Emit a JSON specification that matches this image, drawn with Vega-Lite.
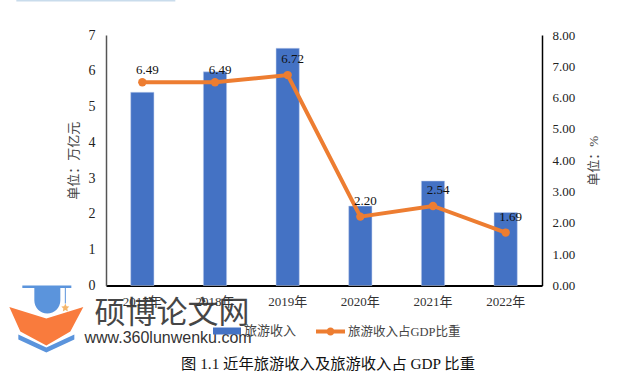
{"$schema":"https://vega.github.io/schema/vega-lite/v6.json","width":436,"height":250.5,"autosize":{"type":"none"},"padding":{"left":106,"top":35,"right":81,"bottom":89.5},"background":"white","title":{"text":"图 1.1  近年旅游收入及旅游收入占 GDP 比重","orient":"bottom","anchor":"middle","offset":4,"dx":4,"font":"Liberation Serif, Noto Sans CJK SC","fontSize":15.3,"fontWeight":"normal","color":"#111"},"config":{"view":{"stroke":null},"font":"Liberation Serif, Noto Sans CJK SC"},"data":{"values":[{"year":"2017年","revenue":5.4,"share":6.49},{"year":"2018年","revenue":5.97,"share":6.49},{"year":"2019年","revenue":6.63,"share":6.72},{"year":"2020年","revenue":2.22,"share":2.2},{"year":"2021年","revenue":2.92,"share":2.54},{"year":"2022年","revenue":2.04,"share":1.69}]},"encoding":{"x":{"field":"year","type":"nominal","sort":null,"scale":{"paddingInner":0.68,"paddingOuter":0.34},"axis":{"title":null,"labelAngle":0,"labelFontSize":13,"labelColor":"#333","labelPadding":10,"ticks":false,"domainColor":"#000","domainWidth":2}}},"layer":[{"mark":{"type":"bar","color":"#4472C4","stroke":"#C5D3EE","strokeWidth":0.5},"encoding":{"y":{"field":"revenue","type":"quantitative","scale":{"domain":[0,7]},"axis":{"title":"单位：万亿元","titleFontSize":13,"titleFontWeight":"normal","titleColor":"#444","titlePadding":8,"labelFontSize":14,"labelColor":"#222","labelPadding":11,"ticks":false,"grid":false,"domainColor":"#555","domainWidth":1.5,"tickCount":8}},"fill":{"datum":"旅游收入","type":"nominal","scale":{"range":["#4472C4"]},"legend":{"title":null,"orient":"none","legendX":107,"legendY":282,"symbolType":"M-1,-0.25H1V0.25H-1Z","symbolSize":784,"symbolStrokeWidth":0,"labelFontSize":13,"labelColor":"#444","labelOffset":3}}}},{"mark":{"type":"line","color":"#ED7D31","strokeWidth":4},"encoding":{"y":{"field":"share","type":"quantitative","scale":{"domain":[0,8]},"axis":{"orient":"right","title":"单位：%","titleAngle":-90,"titleFontSize":13,"titleFontWeight":"normal","titleColor":"#444","titlePadding":26,"labelFontSize":13,"labelColor":"#222","labelPadding":10,"ticks":false,"grid":false,"domainColor":"#000","domainWidth":1.5,"tickCount":9,"format":".2f"}},"stroke":{"datum":"旅游收入占GDP比重","type":"nominal","scale":{"range":["#ED7D31"]},"legend":{"title":null,"orient":"none","legendX":210,"legendY":282,"symbolType":"M-1,-0.14H1V0.14H-1ZM0.28,0A0.28,0.28 0 1 1 -0.28,0A0.28,0.28 0 1 1 0.28,0Z","symbolSize":841,"symbolStrokeWidth":0,"symbolFillColor":"#ED7D31","labelFontSize":12.5,"labelColor":"#444","labelOffset":3}}}},{"mark":{"type":"circle","color":"#ED7D31","size":70,"opacity":1},"encoding":{"y":{"field":"share","type":"quantitative","scale":{"domain":[0,8]},"axis":null}}},{"transform":[{"filter":"datum.share==6.49"}],"mark":{"type":"text","fontSize":13,"color":"#111","dx":5,"dy":-12},"encoding":{"y":{"field":"share","type":"quantitative","scale":{"domain":[0,8]},"axis":null},"text":{"field":"share","type":"quantitative","format":".2f"}}},{"transform":[{"filter":"datum.share!=6.49"}],"mark":{"type":"text","fontSize":13,"color":"#111","dx":5,"dy":-16},"encoding":{"y":{"field":"share","type":"quantitative","scale":{"domain":[0,8]},"axis":null},"text":{"field":"share","type":"quantitative","format":".2f"}}},{"data":{"values":[{"year":"2017年","base":0}]},"layer":[{"mark":{"type":"point","filled":true,"size":4,"opacity":1,"fill":"#F97B3D","strokeWidth":0,"shape":"M-133,21.5L-96,33L-59,21.5L-72,46L-96,60L-122,46Z"}},{"mark":{"type":"point","filled":true,"size":4,"opacity":1,"fill":"#5B94DC","strokeWidth":0,"shape":"M-120,0H-71V2.5H-120ZM-108,2.5H-82V15A13,13 0 0 1 -108,15ZM-77.5,2.5H-76.5V18H-77.5ZM-124,49L-96,62L-68,49L-68,54L-96,67L-124,54Z"}},{"mark":{"type":"point","filled":true,"size":4,"opacity":1,"fill":"#F5B66B","strokeWidth":0,"shape":"M-77,18L-75.8,20.8L-73,21L-75,23L-74.5,26L-77,24.5L-79.5,26L-79,23L-81,21L-78.2,20.8Z"}},{"mark":{"type":"point","filled":true,"size":4,"opacity":1,"fill":"#C9DCEC","strokeWidth":0,"shape":"M-126,-285.5H33V-284H-126Z"}}],"encoding":{"y":{"field":"base","type":"quantitative","scale":{"domain":[0,7]},"axis":null}}},{"data":{"values":[{"year":"2018年","pos":-0.8,"label":"硕博论文网"}]},"mark":{"type":"text","font":"Noto Sans CJK SC","fontSize":31,"color":"#333","opacity":0.9,"dx":-43,"baseline":"middle"},"encoding":{"y":{"field":"pos","type":"quantitative","scale":{"domain":[0,7]},"axis":null},"text":{"field":"label"}}},{"data":{"values":[{"year":"2018年","pos":-1.46,"label":"www.360lunwenku.com"}]},"mark":{"type":"text","font":"Liberation Sans","fontSize":16,"color":"#333","dx":-47,"baseline":"middle"},"encoding":{"y":{"field":"pos","type":"quantitative","scale":{"domain":[0,7]},"axis":null},"text":{"field":"label"}}}],"resolve":{"scale":{"y":"independent","fill":"independent","stroke":"independent"}}}
